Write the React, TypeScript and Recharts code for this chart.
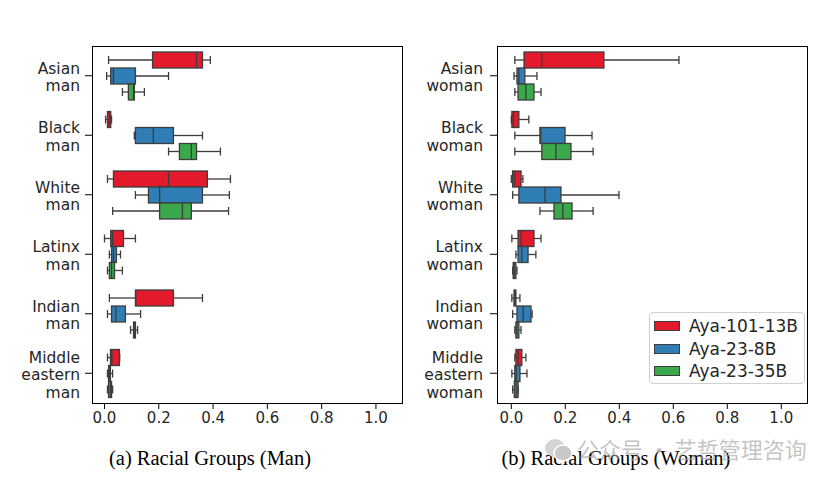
import { ComposedChart, Bar, XAxis, YAxis } from 'recharts';

// Box plots of scores per racial group, three Aya models
const manGroups = ['Asian\nman', 'Black\nman', 'White\nman', 'Latinx\nman', 'Indian\nman', 'Middle\neastern\nman'];
const womanGroups = ['Asian\nwoman', 'Black\nwoman', 'White\nwoman', 'Latinx\nwoman', 'Indian\nwoman', 'Middle\neastern\nwoman'];
const seriesNames = ['Aya-101-13B', 'Aya-23-8B', 'Aya-23-35B'];
const seriesColors = ['#e3192c', '#2f7eb5', '#3aa84b'];
const xTicks = [0, 0.2, 0.4, 0.6, 0.8, 1.0];

// each entry: [min, q1, median, q3, max]
const manAya101 = [
  [0.015, 0.177, 0.339, 0.361, 0.39],
  [0.004, 0.011, 0.018, 0.023, 0.026],
  [0.011, 0.033, 0.236, 0.379, 0.464],
  [0.0, 0.023, 0.03, 0.07, 0.114],
  [0.018, 0.114, 0.115, 0.254, 0.361],
  [0.011, 0.022, 0.027, 0.055, 0.056],
];
const manAya8 = [
  [0.008, 0.023, 0.033, 0.114, 0.236],
  [0.11, 0.114, 0.18, 0.254, 0.361],
  [0.114, 0.162, 0.203, 0.361, 0.46],
  [0.018, 0.026, 0.033, 0.044, 0.059],
  [0.011, 0.026, 0.042, 0.077, 0.133],
  [0.011, 0.015, 0.018, 0.022, 0.03],
];
const manAya35 = [
  [0.066, 0.088, 0.107, 0.11, 0.147],
  [0.236, 0.276, 0.32, 0.339, 0.427],
  [0.03, 0.203, 0.287, 0.32, 0.457],
  [0.011, 0.018, 0.026, 0.037, 0.066],
  [0.096, 0.107, 0.11, 0.114, 0.122],
  [0.011, 0.015, 0.022, 0.026, 0.03],
];
const womanAya101 = [
  [0.013, 0.047, 0.113, 0.343, 0.621],
  [0.0, 0.002, 0.008, 0.028, 0.065],
  [0.0, 0.005, 0.013, 0.036, 0.043],
  [0.002, 0.025, 0.036, 0.084, 0.11],
  [0.002, 0.01, 0.013, 0.017, 0.032],
  [0.013, 0.017, 0.025, 0.039, 0.054],
];
const womanAya8 = [
  [0.01, 0.021, 0.028, 0.05, 0.095],
  [0.013, 0.106, 0.109, 0.199, 0.299],
  [0.005, 0.028, 0.125, 0.184, 0.399],
  [0.017, 0.025, 0.039, 0.062, 0.091],
  [0.005, 0.021, 0.044, 0.073, 0.077],
  [0.002, 0.013, 0.018, 0.032, 0.058],
];
const womanAya35 = [
  [0.013, 0.025, 0.054, 0.084, 0.11],
  [0.013, 0.113, 0.165, 0.221, 0.303],
  [0.106, 0.158, 0.191, 0.225, 0.303],
  [0.005, 0.007, 0.011, 0.017, 0.021],
  [0.013, 0.017, 0.021, 0.028, 0.036],
  [0.005, 0.011, 0.018, 0.025, 0.026],
];

const buildRows = (groups: string[], a: number[][], b: number[][], c: number[][]) =>
  groups.map((group, i) => ({
    group,
    stats: [a[i], b[i], c[i]],
    r0: [a[i][0], a[i][4]],
    r1: [b[i][0], b[i][4]],
    r2: [c[i][0], c[i][4]],
  }));

const manRows = buildRows(manGroups, manAya101, manAya8, manAya35);
const womanRows = buildRows(womanGroups, womanAya101, womanAya8, womanAya35);

const EDGE = '#3d3d3d';
const SANS = 'DejaVu Sans, sans-serif';

function BoxShape(props: any) {
  const { x, y, width, height, fill, stats } = props;
  if (!stats || !isFinite(x) || !isFinite(width)) return null;
  const [lo, q1, med, q3, hi] = stats;
  const span = hi - lo || 1;
  const px = (v: number) => x + ((v - lo) / span) * width;
  const cy = y + height / 2;
  const cap = height / 4;
  const sw = 1.3;
  return (
    <g>
      <line x1={px(lo)} x2={px(q1)} y1={cy} y2={cy} stroke={EDGE} strokeWidth={sw} />
      <line x1={px(q3)} x2={px(hi)} y1={cy} y2={cy} stroke={EDGE} strokeWidth={sw} />
      <line x1={px(lo)} x2={px(lo)} y1={cy - cap} y2={cy + cap} stroke={EDGE} strokeWidth={sw} />
      <line x1={px(hi)} x2={px(hi)} y1={cy - cap} y2={cy + cap} stroke={EDGE} strokeWidth={sw} />
      <rect x={px(q1)} y={y} width={Math.max(px(q3) - px(q1), 0.5)} height={height} fill={fill} stroke={EDGE} strokeWidth={sw} />
      <line x1={px(med)} x2={px(med)} y1={y} y2={y + height} stroke={EDGE} strokeWidth={sw} />
    </g>
  );
}

function GroupTick(props: any) {
  const { x, y, payload } = props;
  const lines = String(payload.value).split('\n');
  const first = 6.75 - (lines.length - 1) * 8.75;
  return (
    <text x={x} y={y} textAnchor="end" fontSize={15.5} fontFamily={SANS} fill="#262626">
      {lines.map((l, i) => (
        <tspan key={i} x={x} y={y + first + i * 17.5}>{l}</tspan>
      ))}
    </text>
  );
}

function BoxPanel({ rows, domain, marginRight, labelGap }: { rows: any[]; domain: [number, number]; marginRight: number; labelGap: number }) {
  return (
    <ComposedChart
      width={415}
      height={430}
      data={rows}
      layout="vertical"
      barGap={0}
      margin={{ top: 46, right: marginRight, bottom: 0, left: 0 }}
    >
      <XAxis
        type="number"
        domain={domain}
        allowDataOverflow
        ticks={xTicks}
        tickFormatter={(v: number) => v.toFixed(1)}
        axisLine={false}
        tickLine={{ stroke: '#000', strokeWidth: 1 }}
        tickSize={6}
        tickMargin={3}
        height={27}
        tick={{ fontSize: 15, fill: '#262626', fontFamily: SANS }}
      />
      <YAxis
        type="category"
        dataKey="group"
        width={92}
        axisLine={false}
        tickLine={{ stroke: '#000', strokeWidth: 1 }}
        tickSize={7}
        tickMargin={labelGap}
        interval={0}
        tick={<GroupTick />}
      />
      {seriesNames.map((name, k) => (
        <Bar
          key={name}
          dataKey={`r${k}`}
          name={name}
          fill={seriesColors[k]}
          barSize={16}
          isAnimationActive={false}
          shape={(p: any) => <BoxShape {...p} stats={p.payload.stats[k]} />}
        />
      ))}
    </ComposedChart>
  );
}

const frame = (left: number): React.CSSProperties => ({
  position: 'absolute',
  left,
  top: 46,
  width: 311,
  height: 358,
  border: '1px solid #000',
  boxSizing: 'border-box',
  pointerEvents: 'none',
});

const caption: React.CSSProperties = {
  position: 'absolute',
  top: 447,
  width: 300,
  textAlign: 'center',
  fontFamily: 'Liberation Serif, serif',
  fontSize: 20.5,
  color: '#000',
  whiteSpace: 'nowrap',
};

export default function App() {
  return (
    <div style={{ position: 'absolute', left: 0, top: 0, width: 830, height: 484, background: '#fff', overflow: 'hidden' }}>
      <div style={{ position: 'absolute', left: 0, top: 0 }}>
        <BoxPanel rows={manRows} domain={[-0.046, 1.096]} marginRight={13} labelGap={5} />
      </div>
      <div style={{ position: 'absolute', left: 405, top: 0 }}>
        <BoxPanel rows={womanRows} domain={[-0.053, 1.099]} marginRight={12} labelGap={7} />
      </div>
      <div style={frame(92)} />
      <div style={frame(497)} />

      {/* legend */}
      <div
        style={{
          position: 'absolute',
          left: 649,
          top: 312,
          width: 156,
          height: 72,
          border: '1px solid #d0d0d0',
          borderRadius: 4,
          background: 'rgba(255,255,255,0.85)',
          boxSizing: 'border-box',
          padding: '2px 0 0 4px',
          fontFamily: SANS,
          fontSize: 17,
          color: '#262626',
        }}
      >
        {seriesNames.map((name, k) => (
          <div key={name} style={{ display: 'flex', alignItems: 'center', height: 22.5 }}>
            <span style={{ display: 'inline-block', width: 26, height: 10, background: seriesColors[k], border: `1px solid ${EDGE}`, boxSizing: 'border-box', marginRight: 9 }} />
            <span style={{ lineHeight: '20px' }}>{name}</span>
          </div>
        ))}
      </div>

      <div style={{ ...caption, left: 60 }}>(a) Racial Groups (Man)</div>
      <div style={{ ...caption, left: 466 }}>(b) Racial Groups (Woman)</div>

      {/* watermark */}
      <svg style={{ position: 'absolute', left: 544, top: 437 }} width={30} height={26}>
        <ellipse cx={11} cy={11} rx={10} ry={9} fill="#d4d4d4" />
        <ellipse cx={19} cy={16} rx={9} ry={8} fill="#c8c8c8" stroke="#fff" strokeWidth={1.5} />
      </svg>
      <div
        style={{
          position: 'absolute',
          left: 577,
          top: 434,
          fontFamily: 'Noto Sans CJK SC, sans-serif',
          fontSize: 22,
          color: 'rgba(170,170,170,0.7)',
          whiteSpace: 'nowrap',
          lineHeight: '28px',
        }}
      >
        公众号 · 艺哲管理咨询
      </div>
    </div>
  );
}
